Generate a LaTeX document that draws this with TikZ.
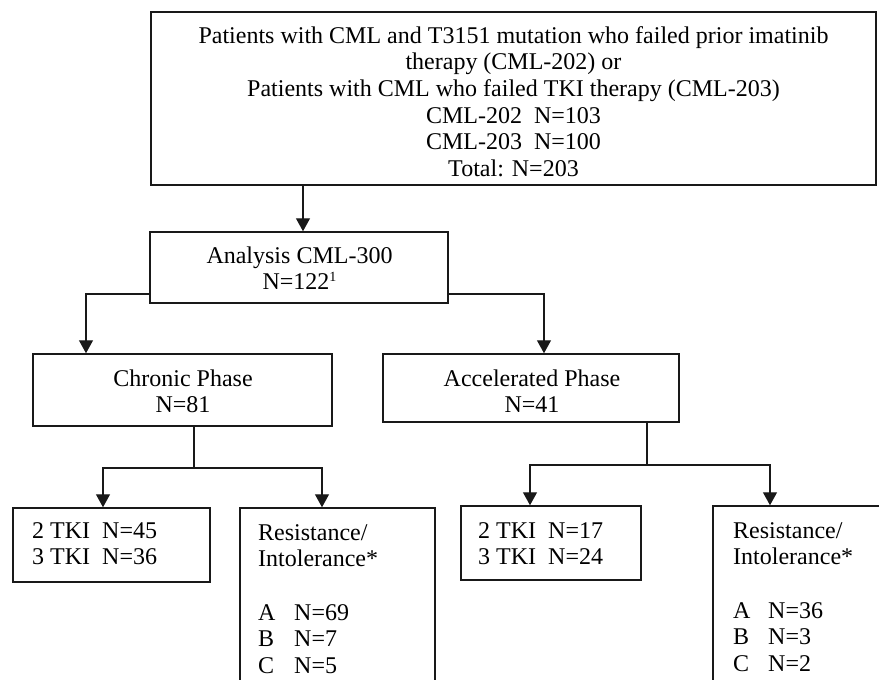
\documentclass[tikz,border=0pt]{standalone}
\usepackage{fontspec}
\setmainfont{Liberation Serif}
\usetikzlibrary{arrows.meta}
\begin{document}
\begin{tikzpicture}[x=1pt,y=-1pt,
  box/.style={draw=black!90, line width=1.5pt, rectangle, inner sep=0pt},
  txt/.style={inner sep=0pt, font=\fontsize{24}{26.6}\selectfont},
  conn/.style={draw=black!90, line width=1.4pt},
  arr/.style={conn, -{Triangle[width=14pt,length=13pt]}}]
\useasboundingbox (0,0) rectangle (879,680);
\clip (0,0) rectangle (879,680);

% boxes
\node[box, minimum width=725pt, minimum height=173pt] (top) at (513.5,98.5) {};
\node[box, minimum width=298pt, minimum height=71pt] (analysis) at (299,267.5) {};
\node[box, minimum width=299pt, minimum height=72pt] (chronic) at (182.5,390) {};
\node[box, minimum width=296pt, minimum height=68pt] (accel) at (531,388) {};
\node[box, minimum width=197pt, minimum height=74pt] (tkiL) at (111.5,545) {};
\node[box, minimum width=195pt, minimum height=212pt] (resL) at (337.5,614) {};
\node[box, minimum width=180pt, minimum height=74pt] (tkiR) at (551,543) {};
\node[box, minimum width=212pt, minimum height=214pt] (resR) at (819,613) {};

% texts
\node[txt, align=center, anchor=north] (toptext) at (513.5,24.4)
  {\strut Patients with CML and T3151 mutation who failed prior imatinib\\
   therapy (CML-202) or\\
   Patients with CML who failed TKI therapy (CML-203)\\
   CML-202\ \ N=103\\
   CML-203\ \ N=100\\
   Total: N=203};
\node[txt, align=center, anchor=north] (antext) at (299.5,244.4)
  {\strut Analysis CML-300\\ N=122\raisebox{8pt}{\fontsize{14}{14}\selectfont 1}};
\node[txt, align=center, anchor=north] (chtext) at (183,367.4)
  {\strut Chronic Phase\\ N=81};
\node[txt, align=center, anchor=north] (actext) at (532,367.4)
  {\strut Accelerated Phase\\ N=41};
\node[txt, align=left, anchor=north west] (tkiLtext) at (32,519.4)
  {\strut 2 TKI\ \ N=45\\ 3 TKI\ \ N=36};
\node[txt, align=left, anchor=north west] (resLtext) at (258,521.4)
  {\strut Resistance/\\ Intolerance*\\ \strut\\
   \makebox[36pt][l]{A}N=69\\ \makebox[36pt][l]{B}N=7\\ \makebox[36pt][l]{C}N=5};
\node[txt, align=left, anchor=north west] (tkiRtext) at (478,519.4)
  {\strut 2 TKI\ \ N=17\\ 3 TKI\ \ N=24};
\node[txt, align=left, anchor=north west] (resRtext) at (733,519.4)
  {\strut Resistance/\\ Intolerance*\\ \strut\\
   \makebox[35pt][l]{A}N=36\\ \makebox[35pt][l]{B}N=3\\ \makebox[35pt][l]{C}N=2};

% connectors
\draw[arr] ([xshift=4pt]analysis.north |- top.south) -- ([xshift=4pt]analysis.north);
\draw[arr] ([yshift=-26.5pt]analysis.west) -| ([xshift=-96.5pt]chronic.north);
\draw[arr] ([yshift=-26.5pt]analysis.east) -| ([xshift=13pt]accel.north);

\coordinate (jL) at (194,468);
\draw[conn] (jL |- chronic.south) -- (jL);
\draw[arr] (jL) -| ([xshift=-8.5pt]tkiL.north);
\draw[arr] (jL) -| ([xshift=-15.5pt]resL.north);

\coordinate (jR) at (647,465);
\draw[conn] (jR |- accel.south) -- (jR);
\draw[arr] (jR) -| ([xshift=-21pt]tkiR.north);
\draw[arr] (jR) -| ([xshift=-49pt]resR.north);
\end{tikzpicture}
\end{document}
